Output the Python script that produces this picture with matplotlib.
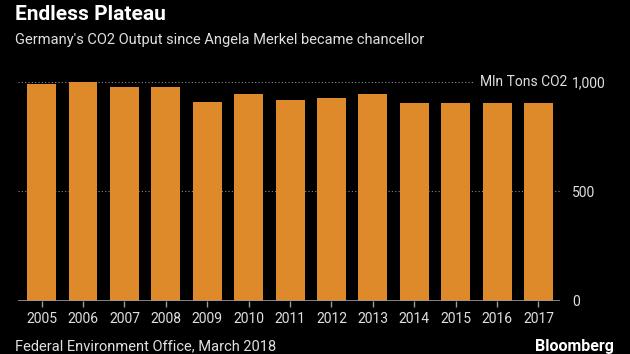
import matplotlib
matplotlib.use("Agg")
import matplotlib.pyplot as plt

plt.rcParams['font.family'] = ['Roboto', 'DejaVu Sans']

years = ["2005", "2006", "2007", "2008", "2009", "2010", "2011", "2012", "2013", "2014", "2015", "2016", "2017"]
co2 = [991, 1000, 977, 977, 908, 943, 920, 925, 943, 902, 905, 905, 902]
yticks = [0, 500, 1000]
ytick_labels = ["0", "500", "1,000"]

BAR = "#DE8A2A"
TXT = "#E0E0E0"
GRID = "#8A8A8A"

fig = plt.figure(figsize=(6.3, 3.54), dpi=100, facecolor="black")
ax = fig.add_axes([18/630, 1 - 300.5/354, (560-18)/630, (300.5-71.1)/354], facecolor="black")
x = list(range(len(years)))
ax.bar(x, co2, width=0.70, color=BAR, zorder=1)
ax.set_xlim(-0.57, 12.52)
ax.set_ylim(0, 1050)

# grid lines (dotted)
ax.axhline(500, color=GRID, lw=0.8, ls=(0, (1, 2)), zorder=0)
ax.axhline(1000, xmin=0, xmax=(473-18)/(560-18), color=GRID, lw=0.8, ls=(0, (1, 2)), zorder=0)
ax.axhline(0, color="#9A9A9A", lw=1.2, zorder=2)

for s in ax.spines.values():
    s.set_visible(False)
ax.set_xticks(x)
ax.set_xticklabels(years)
ax.tick_params(axis="x", colors="#9A9A9A", length=4, width=1, labelcolor=TXT, labelsize=10, pad=4)
ax.set_yticks(yticks)
ax.set_yticklabels(ytick_labels)
ax.yaxis.tick_right()
ax.tick_params(axis="y", length=0, labelcolor=TXT, labelsize=10, pad=8.5)
ax.text((567-18)/(560-18), 1000, "Mln Tons CO2", transform=ax.get_yaxis_transform(), ha="right", va="center",
        color=TXT, fontsize=10)

fig.text(15/630, 1 - 15/354, "Endless Plateau", color="white", fontsize=15, fontweight="bold", va="center", ha="left")
fig.text(15/630, 1 - 40/354, "Germany's CO2 Output since Angela Merkel became chancellor", color=TXT, fontsize=10.5, va="center", ha="left")
fig.text(15/630, 1 - 346/354, "Federal Environment Office, March 2018", color=TXT, fontsize=10.5, va="center", ha="left")
fig.text(614/630, 1 - 346/354, "Bloomberg", color="white", fontsize=11.5, fontweight="bold", va="center", ha="right")

fig.savefig("out.png", dpi=100, facecolor="black")
